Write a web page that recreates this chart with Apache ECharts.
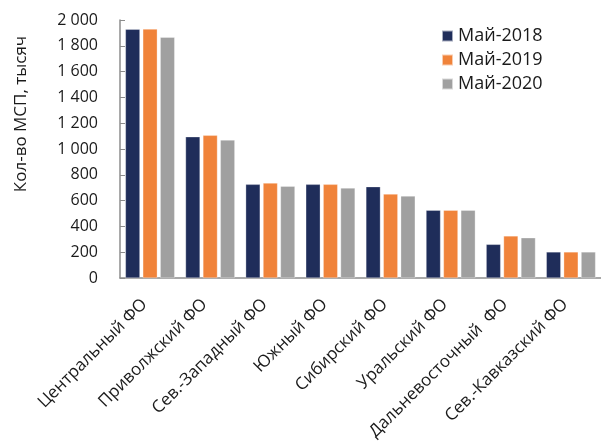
<!DOCTYPE html>
<html><head><meta charset="utf-8">
<script src="https://cdn.jsdelivr.net/npm/echarts@6/dist/echarts.min.js"></script>
<style>html,body{margin:0;padding:0;background:#fff}#c{width:601px;height:446px}</style>
</head><body><div id="c"></div>
<script>
var categories = ['Центральный ФО','Приволжский ФО','Сев.-Западный ФО','Южный ФО','Сибирский ФО','Уральский ФО','Дальневосточный  ФО','Сев.-Кавказский ФО'];
var seriesNames = ['Май-2018','Май-2019','Май-2020'];
var may2018 = [1928, 1095, 726, 726, 708, 525, 261, 202];
var may2019 = [1930, 1106, 736, 726, 651, 525, 326, 202];
var may2020 = [1866, 1070, 711, 698, 636, 525, 312, 202];
var colors = ['#1F2D5A', '#F0833A', '#A0A0A0'];
var yAxisTitle = 'Кол-во МСП, тысяч';

var FONT = '"Open Sans", "Noto Sans", sans-serif';
var chart = echarts.init(document.getElementById('c'));
function fmt(v){ return String(v).replace(/\B(?=(\d{3})+(?!\d))/g, ' '); }
var data = [may2018, may2019, may2020];
chart.setOption({
  animation: false,
  grid: { left: 120, right: -5, top: 20, bottom: 168, containLabel: false },
  legend: {
    orient: 'vertical', left: 436, top: 22, itemWidth: 11, itemHeight: 11, itemGap: 6,
    icon: 'rect',
    textStyle: { fontFamily: FONT, fontSize: 18, color: '#1a1a1a' },
    data: seriesNames
  },
  graphic: [{
    type: 'text', x: 21, y: 114, rotation: Math.PI/2,
    style: { text: yAxisTitle, font: '17px ' + FONT, fill: '#1a1a1a', textAlign: 'center', textVerticalAlign: 'middle' }
  }],
  xAxis: {
    type: 'category', data: categories,
    axisLine: { lineStyle: { color: '#8c8c8c', width: 1.5 } },
    axisTick: { show: false },
    axisLabel: { rotate: 45, interval: 0, margin: 18, fontFamily: FONT, fontSize: 17, color: '#1a1a1a', padding: [0, 8, 0, 0] }
  },
  yAxis: {
    type: 'value', min: 0, max: 2000, interval: 200,
    axisLine: { show: true, lineStyle: { color: '#8c8c8c', width: 1.5 } },
    axisTick: { show: true, inside: true, length: 5, lineStyle: { color: '#8c8c8c' } },
    splitLine: { show: false },
    axisLabel: { margin: 22, fontFamily: FONT, fontSize: 16, color: '#1a1a1a', formatter: fmt }
  },
  series: seriesNames.map(function(n, i){
    return { name: n, type: 'bar', data: data[i], barGap: '20%', barCategoryGap: '18%',
      itemStyle: { color: colors[i], borderColor: 'rgba(255,255,255,0.6)', borderWidth: 0.5 } };
  })
});
</script></body></html>
